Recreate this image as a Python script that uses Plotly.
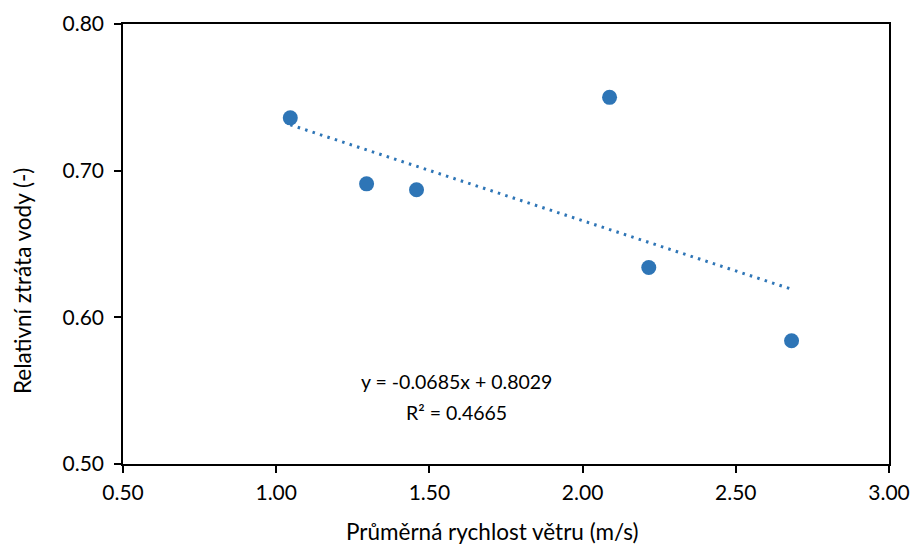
import plotly.graph_objects as go

# Data
wind_speed = [1.046, 1.295, 1.458, 2.088, 2.216, 2.682]
water_loss = [0.736, 0.691, 0.687, 0.750, 0.634, 0.584]

# Trendline coefficients (as printed in the chart)
slope = -0.0685
intercept = 0.8029
r_squared = 0.4665

x_ticks = [0.5, 1.0, 1.5, 2.0, 2.5, 3.0]
y_ticks = [0.5, 0.6, 0.7, 0.8]

x_title = "Průměrná rychlost větru (m/s)"
y_title = "Relativní ztráta vody (-)"

blue = "#2E75B6"
font_family = "Lato, Calibri, Carlito, sans-serif"

x_line = [min(wind_speed), max(wind_speed)]
y_line = [slope * v + intercept for v in x_line]

fig = go.Figure()
fig.add_trace(go.Scatter(
    x=x_line, y=y_line, mode="lines",
    line=dict(color=blue, width=3, dash="2.5px,5.3px"),
    showlegend=False, hoverinfo="skip",
))
fig.add_trace(go.Scatter(
    x=wind_speed, y=water_loss, mode="markers",
    marker=dict(color=blue, size=15, line=dict(width=0)),
    showlegend=False,
))

ann_font = dict(family=font_family, size=19.5, color="#000000")
fig.add_annotation(
    x=1.587, y=0.556, xref="x", yref="y",
    text=f"y = {slope:.4f}x + {intercept:.4f}",
    showarrow=False, align="center", font=ann_font,
)
fig.add_annotation(
    x=1.590, y=0.535, xref="x", yref="y",
    text=f"R² = {r_squared:.4f}",
    showarrow=False, align="center", font=ann_font,
)

title_font = dict(family=font_family, size=22.5, color="#000000")
fig.add_annotation(
    x=0.483, y=-0.154, xref="paper", yref="paper",
    text=x_title, showarrow=False, font=title_font,
    xanchor="center", yanchor="middle",
)
fig.add_annotation(
    x=-0.1305, y=0.416, xref="paper", yref="paper",
    text=y_title, showarrow=False, font=title_font, textangle=-90,
    xanchor="center", yanchor="middle",
)

fig.update_layout(
    width=915, height=545,
    autosize=False,
    margin=dict(l=123, r=26, t=24, b=81, autoexpand=False),
    paper_bgcolor="white", plot_bgcolor="white",
    font=dict(family=font_family, size=21, color="#000000"),
    xaxis=dict(
        range=[0.5, 3.0], tickvals=x_ticks,
        ticktext=[f"{v:.2f}" for v in x_ticks],
        showgrid=False, zeroline=False, automargin=False,
        showline=True, linecolor="black", linewidth=1.5, mirror=True,
        ticks="outside", ticklen=7, tickwidth=1.5, tickcolor="black",
        ticklabelstandoff=2,
    ),
    yaxis=dict(
        range=[0.5, 0.8], tickvals=y_ticks,
        ticktext=[f"{v:.2f}" for v in y_ticks],
        showgrid=False, zeroline=False, automargin=False,
        showline=True, linecolor="black", linewidth=1.5, mirror=True,
        ticks="outside", ticklen=7, tickwidth=1.5, tickcolor="black",
        ticklabelstandoff=6,
    ),
)

fig.write_html("out.html")
